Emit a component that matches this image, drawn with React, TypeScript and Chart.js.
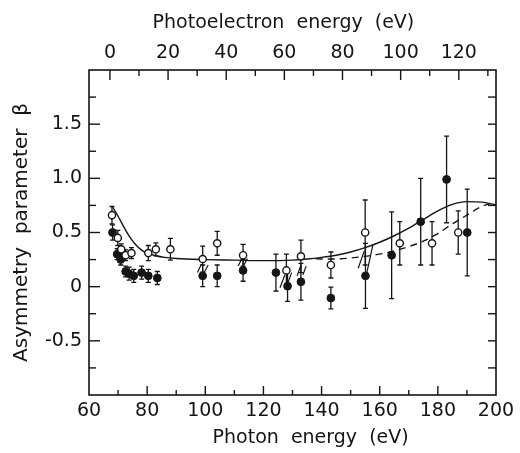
import React, { useEffect, useRef } from 'react';
import { Chart, registerables } from 'chart.js';

Chart.register(...registerables);

// ---- data ----
const openEnergy = [67.9, 69.9, 71.1, 72.6, 74.6, 80.4, 83.0, 88.0, 99.1, 104.1, 113.0, 127.9, 132.9, 143.2, 155.0, 166.9, 178.0, 187.0];
const openBeta = [0.66, 0.45, 0.345, 0.29, 0.31, 0.31, 0.345, 0.345, 0.255, 0.4, 0.29, 0.15, 0.28, 0.2, 0.5, 0.4, 0.4, 0.5];
const openErr = [0.08, 0.07, 0.05, 0.05, 0.05, 0.07, 0.06, 0.1, 0.12, 0.11, 0.1, 0.15, 0.15, 0.12, 0.3, 0.2, 0.2, 0.2];

const filledEnergy = [68.1, 69.7, 70.9, 72.6, 73.8, 75.4, 78.1, 80.4, 83.5, 99.1, 104.1, 113.0, 124.3, 128.3, 132.9, 143.2, 155.1, 164.1, 174.1, 183.0, 190.1];
const filledBeta = [0.5, 0.3, 0.25, 0.14, 0.12, 0.1, 0.13, 0.1, 0.08, 0.1, 0.1, 0.15, 0.13, 0.005, 0.045, -0.105, 0.1, 0.29, 0.6, 0.99, 0.5];
const filledErr = [0.07, 0.05, 0.05, 0.05, 0.06, 0.06, 0.06, 0.06, 0.06, 0.1, 0.1, 0.1, 0.17, 0.14, 0.17, 0.1, 0.3, 0.4, 0.4, 0.4, 0.4];

const solidEnergy = [68, 70, 72, 74, 76, 78, 80, 83, 86, 90, 100, 110, 120, 130, 135, 140, 145, 150, 155, 160, 165, 170, 175, 180, 185, 190, 195, 200];
const solidBeta = [0.74, 0.65, 0.55, 0.46, 0.39, 0.34, 0.31, 0.285, 0.27, 0.26, 0.25, 0.245, 0.24, 0.245, 0.255, 0.27, 0.29, 0.32, 0.36, 0.41, 0.47, 0.54, 0.62, 0.7, 0.76, 0.785, 0.78, 0.755];

const dashEnergy = [138, 140, 145, 150, 155, 160, 165, 170, 175, 180, 185, 190, 195, 200];
const dashBeta = [0.258, 0.255, 0.255, 0.265, 0.28, 0.3, 0.33, 0.37, 0.42, 0.49, 0.58, 0.66, 0.74, 0.78];

// short slanted tie strokes between paired points
const tieStartEnergy = [97.3, 99.6, 111.3, 113.3, 125.7, 128.2, 131.6, 133.6, 152.6, 155.5];
const tieStartBeta = [0.13, 0.13, 0.19, 0.2, -0.01, 0.02, 0.1, 0.11, 0.17, 0.12];
const tieEndEnergy = [98.7, 101.0, 112.8, 114.5, 127.4, 129.7, 132.9, 134.7, 154.7, 157.7];
const tieEndBeta = [0.21, 0.2, 0.27, 0.26, 0.11, 0.13, 0.2, 0.19, 0.33, 0.39];

// ---- axes ----
const photonTicks = [60, 70, 80, 90, 100, 110, 120, 130, 140, 150, 160, 170, 180, 190, 200];
const photonTickLabels = [60, 80, 100, 120, 140, 160, 180, 200];
const electronTicks = [0, 10, 20, 30, 40, 50, 60, 70, 80, 90, 100, 110, 120, 130];
const electronTickLabels = [0, 20, 40, 60, 80, 100, 120];
const betaTicks = [-0.75, -0.5, -0.25, 0, 0.25, 0.5, 0.75, 1, 1.25, 1.5, 1.75];
const betaLabelValues = [-0.5, 0, 0.5, 1, 1.5];
const betaLabelTexts = ['-0.5', '0', '0.5', '1.0', '1.5'];
const bindingEnergy = 67.2;

const INK = '#151515';
const FONT = { family: '"DejaVu Sans", sans-serif', size: 19 };
const YTITLE_FONT = { family: '"DejaVu Sans", sans-serif', size: 20 };

const xy = (xs: number[], ys: number[]) => xs.map((x, i) => ({ x, y: ys[i] }));

export default function App() {
  const ref = useRef<HTMLCanvasElement>(null);

  useEffect(() => {
    document.body.style.margin = '0';
    const canvas = ref.current!;

    const tieData: any[] = [];
    tieStartEnergy.forEach((x, i) => {
      tieData.push({ x, y: tieStartBeta[i] });
      tieData.push({ x: tieEndEnergy[i], y: tieEndBeta[i] });
      tieData.push({ x: tieEndEnergy[i], y: null });
    });

    const errorBars = {
      id: 'errorBars',
      beforeDatasetsDraw(chart: any) {
        const { ctx, scales } = chart;
        const sx = scales.x, sy = scales.y;
        ctx.save();
        ctx.strokeStyle = INK;
        ctx.lineWidth = 1.3;
        const draw = (xs: number[], ys: number[], es: number[]) => {
          xs.forEach((x, i) => {
            const px = sx.getPixelForValue(x);
            const top = sy.getPixelForValue(ys[i] + es[i]);
            const bot = sy.getPixelForValue(ys[i] - es[i]);
            ctx.beginPath();
            ctx.moveTo(px, top); ctx.lineTo(px, bot);
            ctx.moveTo(px - 2.5, top); ctx.lineTo(px + 2.5, top);
            ctx.moveTo(px - 2.5, bot); ctx.lineTo(px + 2.5, bot);
            ctx.stroke();
          });
        };
        draw(openEnergy, openBeta, openErr);
        draw(filledEnergy, filledBeta, filledErr);
        ctx.restore();
      },
    };

    const frame = {
      id: 'frame',
      afterDraw(chart: any) {
        const { ctx, chartArea: a, scales } = chart;
        ctx.save();
        ctx.strokeStyle = INK;
        ctx.lineWidth = 1.6;
        ctx.strokeRect(a.left, a.top, a.right - a.left, a.bottom - a.top);
        ctx.lineWidth = 1.4;
        const seg = (x1: number, y1: number, x2: number, y2: number) => {
          ctx.beginPath(); ctx.moveTo(x1, y1); ctx.lineTo(x2, y2); ctx.stroke();
        };
        scales.x.ticks.forEach((t: any) => {
          const p = scales.x.getPixelForValue(t.value);
          if (p <= a.left + 1 || p >= a.right - 1) return;
          seg(p, a.bottom, p, a.bottom - (t.label ? 9 : 5));
        });
        scales.x2.ticks.forEach((t: any) => {
          const p = scales.x2.getPixelForValue(t.value);
          if (p <= a.left + 1 || p >= a.right - 1) return;
          seg(p, a.top, p, a.top + (t.label ? 10 : 6));
        });
        scales.y.ticks.forEach((t: any) => {
          const p = scales.y.getPixelForValue(t.value);
          if (p <= a.top + 1 || p >= a.bottom - 1) return;
          seg(a.left, p, a.left + (t.label ? 11 : 7), p);
          seg(a.right, p, a.right - 8, p);
        });
        ctx.restore();
      },
    };

    const chart = new Chart(canvas, {
      type: 'scatter',
      data: {
        datasets: [
          {
            label: 'open',
            data: xy(openEnergy, openBeta),
            pointRadius: 3.6,
            pointBackgroundColor: '#ffffff',
            pointBorderColor: INK,
            pointBorderWidth: 1.4,
            showLine: false,
            order: 0,
          },
          {
            label: 'filled',
            data: xy(filledEnergy, filledBeta),
            pointRadius: 3.9,
            pointBackgroundColor: INK,
            pointBorderColor: INK,
            pointBorderWidth: 1,
            showLine: false,
            order: 0,
          },
          {
            label: 'ties',
            data: tieData,
            showLine: true,
            spanGaps: false,
            borderColor: INK,
            borderWidth: 1.2,
            pointRadius: 0,
            order: 2,
          },
          {
            label: 'theory solid',
            data: xy(solidEnergy, solidBeta),
            showLine: true,
            borderColor: INK,
            borderWidth: 1.4,
            pointRadius: 0,
            cubicInterpolationMode: 'monotone',
            order: 3,
          },
          {
            label: 'theory dashed',
            data: xy(dashEnergy, dashBeta),
            showLine: true,
            borderColor: INK,
            borderWidth: 1.4,
            borderDash: [7, 5],
            pointRadius: 0,
            cubicInterpolationMode: 'monotone',
            order: 3,
          },
        ] as any,
      },
      options: {
        responsive: false,
        animation: false,
        events: [],
        layout: { padding: { left: 0, right: 24, top: 0, bottom: 0 } },
        plugins: { legend: { display: false }, tooltip: { enabled: false } },
        scales: {
          x: {
            type: 'linear',
            position: 'bottom',
            min: 60,
            max: 200,
            afterBuildTicks: (s: any) => { s.ticks = photonTicks.map((v) => ({ value: v })); },
            afterFit: (s: any) => { s.height = 58; },
            grid: { display: false, drawTicks: false },
            border: { display: false },
            ticks: {
              autoSkip: false,
              maxRotation: 0,
              padding: 5,
              color: INK,
              font: FONT,
              callback: (v: any) => (photonTickLabels.includes(Number(v)) ? String(v) : ''),
            },
            title: { display: true, text: '      Photon  energy  (eV)', color: INK, font: FONT, padding: { top: 0, bottom: 4 } },
          },
          x2: {
            type: 'linear',
            position: 'top',
            min: 60 - bindingEnergy,
            max: 200 - bindingEnergy,
            afterBuildTicks: (s: any) => { s.ticks = electronTicks.map((v) => ({ value: v })); },
            afterFit: (s: any) => { s.height = 70; },
            grid: { display: false, drawTicks: false },
            border: { display: false },
            ticks: {
              autoSkip: false,
              maxRotation: 0,
              padding: 6,
              color: INK,
              font: FONT,
              callback: (v: any) => (electronTickLabels.includes(Number(v)) ? String(v) : ''),
            },
            title: { display: true, text: 'Photoelectron  energy  (eV)   ', color: INK, font: FONT, padding: { top: 12, bottom: 0 } },
          },
          y: {
            type: 'linear',
            position: 'left',
            min: -1,
            max: 2,
            afterBuildTicks: (s: any) => { s.ticks = betaTicks.map((v) => ({ value: v })); },
            afterFit: (s: any) => { s.width = 89; },
            grid: { display: false, drawTicks: false },
            border: { display: false },
            ticks: {
              autoSkip: false,
              padding: 7,
              color: INK,
              font: FONT,
              callback: (v: any) => {
                const i = betaLabelValues.findIndex((b) => Math.abs(b - Number(v)) < 1e-6);
                return i >= 0 ? betaLabelTexts[i] : '';
              },
            },
            title: { display: true, text: 'Asymmetry  parameter  β', color: INK, font: YTITLE_FONT, padding: { top: 10, bottom: 0 } },
          },
        },
      } as any,
      plugins: [errorBars, frame],
    });

    return () => chart.destroy();
  }, []);

  return (
    <div style={{ width: 520, height: 453, background: '#ffffff' }}>
      <canvas ref={ref} width={520} height={453} style={{ display: 'block' }} />
    </div>
  );
}
